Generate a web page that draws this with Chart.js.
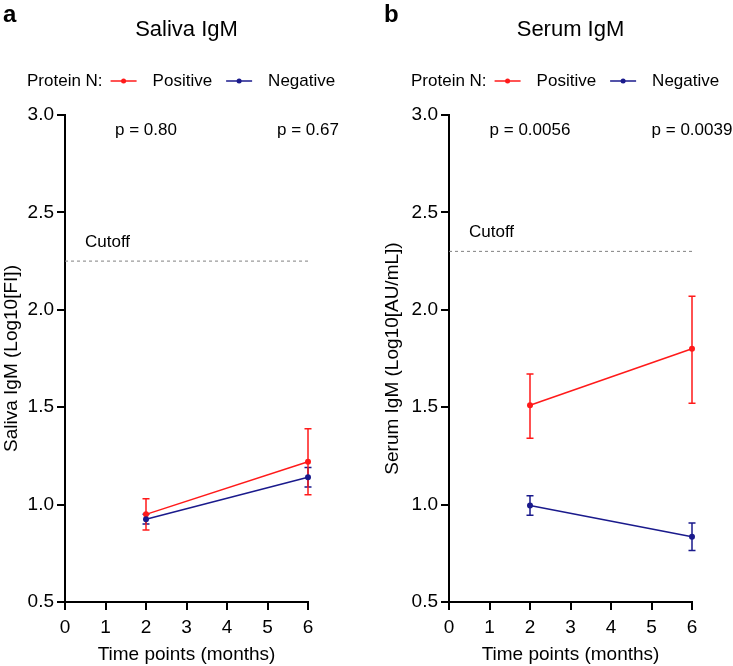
<!DOCTYPE html>
<html>
<head>
<meta charset="utf-8">
<script src="https://cdn.jsdelivr.net/npm/chart.js@4.4.1/dist/chart.umd.min.js"></script>
<style>
  html, body { margin: 0; padding: 0; background: #fff; }
  .panel { position: absolute; top: 0; height: 666px; }
  #panelA { left: 0; width: 366px; }
  #panelB { left: 366px; width: 367px; }
</style>
</head>
<body>
<div class="panel" id="panelA"><canvas id="salivaChart" width="366" height="666"></canvas></div>
<div class="panel" id="panelB"><canvas id="serumChart" width="367" height="666"></canvas></div>
<script>
// time points (months) shared by both panels
const timePoints = [2, 6];
const xTicks = [0, 1, 2, 3, 4, 5, 6];
const yTicks = [0.5, 1.0, 1.5, 2.0, 2.5, 3.0];

// saliva IgM, Log10[FI]
const salivaPositive = [0.95, 1.22];
const salivaPositiveLow = [0.87, 1.05];
const salivaPositiveHigh = [1.03, 1.39];
const salivaNegative = [0.925, 1.14];
const salivaNegativeLow = [0.90, 1.09];
const salivaNegativeHigh = [0.95, 1.19];
const salivaCutoff = 2.25;
const salivaPValues = ['p = 0.80', 'p = 0.67'];

// serum IgM, Log10[AU/mL]
const serumPositive = [1.51, 1.80];
const serumPositiveLow = [1.34, 1.52];
const serumPositiveHigh = [1.67, 2.07];
const serumNegative = [0.995, 0.835];
const serumNegativeLow = [0.945, 0.765];
const serumNegativeHigh = [1.045, 0.905];
const serumCutoff = 2.30;
const serumPValues = ['p = 0.0056', 'p = 0.0039'];

const pValueLevel = 2.92;

const RED = '#ff1a1a';
const BLUE = '#1a1a8c';
const FONT = '"Liberation Sans", Arial, Helvetica, sans-serif';

function toPoints(values) {
    return values.map((v, i) => ({ x: timePoints[i], y: v }));
}

// error bars, p-values, cutoff label, title and legend
const decorPlugin = {
    id: 'decor',
    beforeDatasetsDraw(chart) {
        const ctx = chart.ctx;
        const xs = chart.scales.x, ys = chart.scales.y;
        chart.data.datasets.forEach(ds => {
            if (!ds.errLow) return;
            ctx.save();
            ctx.strokeStyle = ds.borderColor;
            ctx.lineWidth = 1.5;
            ds.data.forEach((p, i) => {
                const px = xs.getPixelForValue(p.x);
                const lo = ys.getPixelForValue(ds.errLow[i]);
                const hi = ys.getPixelForValue(ds.errHigh[i]);
                ctx.beginPath();
                ctx.moveTo(px, lo); ctx.lineTo(px, hi);
                ctx.moveTo(px - 3.5, lo); ctx.lineTo(px + 3.5, lo);
                ctx.moveTo(px - 3.5, hi); ctx.lineTo(px + 3.5, hi);
                ctx.stroke();
            });
            ctx.restore();
        });
    },
    afterDraw(chart, args, opts) {
        const ctx = chart.ctx;
        const area = chart.chartArea;
        const xs = chart.scales.x, ys = chart.scales.y;
        ctx.save();
        ctx.fillStyle = '#000';
        ctx.textBaseline = 'middle';

        // panel letter
        ctx.font = 'bold 24px ' + FONT;
        ctx.textAlign = 'left';
        ctx.fillText(opts.letter, opts.letterX, 15);

        // title
        ctx.font = '22px ' + FONT;
        ctx.textAlign = 'center';
        ctx.fillText(opts.title, (area.left + area.right) / 2, 30);

        // legend
        ctx.font = '17px ' + FONT;
        ctx.textAlign = 'left';
        let lx = area.left - 38;
        const ly = 81;
        ctx.fillText('Protein N:', lx, ly);
        lx += ctx.measureText('Protein N:').width + 8;
        [['Positive', RED], ['Negative', BLUE]].forEach(([name, col]) => {
            ctx.strokeStyle = col;
            ctx.fillStyle = col;
            ctx.lineWidth = 1.5;
            ctx.beginPath();
            ctx.moveTo(lx, ly); ctx.lineTo(lx + 26, ly);
            ctx.stroke();
            ctx.beginPath();
            ctx.arc(lx + 13, ly, 2.5, 0, Math.PI * 2);
            ctx.fill();
            lx += 42;
            ctx.fillStyle = '#000';
            ctx.fillText(name, lx, ly);
            lx += ctx.measureText(name).width + 14;
        });

        // p-values
        ctx.font = '17px ' + FONT;
        ctx.textAlign = 'center';
        opts.pValues.forEach((t, i) => {
            ctx.fillText(t, xs.getPixelForValue(timePoints[i]), ys.getPixelForValue(pValueLevel));
        });

        // cutoff label
        ctx.textAlign = 'left';
        ctx.fillText('Cutoff', area.left + 20, ys.getPixelForValue(opts.cutoff) - 19);
        ctx.restore();
    }
};

function buildPanel(canvasId, cfg) {
    const canvas = document.getElementById(canvasId);
    return new Chart(canvas, {
        type: 'line',
        data: {
            datasets: [
                {
                    label: 'Cutoff',
                    data: [{ x: 0, y: cfg.cutoff }, { x: 6, y: cfg.cutoff }],
                    borderColor: '#808080',
                    borderWidth: 1,
                    borderDash: [3, 3],
                    pointRadius: 0,
                    clip: false
                },
                {
                    label: 'Negative',
                    data: toPoints(cfg.negative),
                    errLow: cfg.negativeLow,
                    errHigh: cfg.negativeHigh,
                    borderColor: BLUE,
                    backgroundColor: BLUE,
                    borderWidth: 1.5,
                    pointRadius: 3,
                    pointBorderWidth: 0,
                    clip: false
                },
                {
                    label: 'Positive',
                    data: toPoints(cfg.positive),
                    errLow: cfg.positiveLow,
                    errHigh: cfg.positiveHigh,
                    borderColor: RED,
                    backgroundColor: RED,
                    borderWidth: 1.5,
                    pointRadius: 3,
                    pointBorderWidth: 0,
                    clip: false
                }
            ]
        },
        options: {
            responsive: false,
            animation: false,
            layout: { padding: { top: 115, right: cfg.padRight, left: 0, bottom: 0 } },
            plugins: {
                legend: { display: false },
                tooltip: { enabled: false },
                decor: {
                    letter: cfg.letter,
                    letterX: cfg.letterX,
                    title: cfg.title,
                    pValues: cfg.pValues,
                    cutoff: cfg.cutoff
                }
            },
            scales: {
                x: {
                    type: 'linear',
                    min: 0,
                    max: 6,
                    afterBuildTicks: s => { s.ticks = xTicks.map(v => ({ value: v })); },
                    afterFit: s => { s.height = 64; },
                    grid: { drawOnChartArea: false, tickLength: 8, color: '#000', lineWidth: 2 },
                    border: { color: '#000', width: 2 },
                    ticks: { color: '#000', font: { family: FONT, size: 19 }, padding: 6, maxRotation: 0 },
                    title: {
                        display: true,
                        text: 'Time points (months)',
                        color: '#000',
                        font: { family: FONT, size: 19 },
                        padding: { top: 2, bottom: 0 }
                    }
                },
                y: {
                    min: 0.5,
                    max: 3.0,
                    afterBuildTicks: s => { s.ticks = yTicks.map(v => ({ value: v })); },
                    afterFit: s => { s.width = cfg.yWidth; },
                    grid: { drawOnChartArea: false, tickLength: 8, color: '#000', lineWidth: 2 },
                    border: { color: '#000', width: 2 },
                    ticks: {
                        color: '#000',
                        font: { family: FONT, size: 19 },
                        padding: 3,
                        callback: v => Number(v).toFixed(1)
                    },
                    title: {
                        display: true,
                        text: cfg.yTitle,
                        color: '#000',
                        font: { family: FONT, size: 19 },
                        padding: { top: cfg.yTitlePad, bottom: 0 }
                    }
                }
            }
        },
        plugins: [decorPlugin]
    });
}

buildPanel('salivaChart', {
    letter: 'a', letterX: 3,
    title: 'Saliva IgM',
    yTitle: 'Saliva IgM (Log10[FI])',
    positive: salivaPositive, positiveLow: salivaPositiveLow, positiveHigh: salivaPositiveHigh,
    negative: salivaNegative, negativeLow: salivaNegativeLow, negativeHigh: salivaNegativeHigh,
    cutoff: salivaCutoff,
    pValues: salivaPValues,
    yWidth: 65, yTitlePad: 0, padRight: 58
});

buildPanel('serumChart', {
    letter: 'b', letterX: 18,
    title: 'Serum IgM',
    yTitle: 'Serum IgM (Log10[AU/mL])',
    positive: serumPositive, positiveLow: serumPositiveLow, positiveHigh: serumPositiveHigh,
    negative: serumNegative, negativeLow: serumNegativeLow, negativeHigh: serumNegativeHigh,
    cutoff: serumCutoff,
    pValues: serumPValues,
    yWidth: 83, yTitlePad: 15, padRight: 41
});
</script>
</body>
</html>
